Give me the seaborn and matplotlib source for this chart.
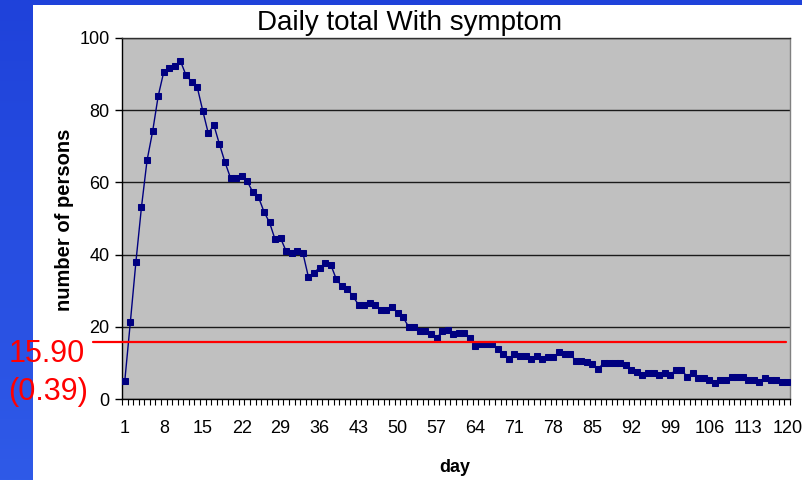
import numpy as np
import pandas as pd
import matplotlib
matplotlib.use("Agg")
import matplotlib.pyplot as plt
import matplotlib.transforms as mtransforms
from matplotlib.colors import LinearSegmentedColormap
from matplotlib.patches import Rectangle
import seaborn as sns

# Daily number of persons reporting symptoms, days 1-120
days = list(range(1, 121))
persons = [
    5.0, 21.3, 38.0, 53.2, 66.1, 74.1, 83.9, 90.6, 91.8, 92.3,
    93.6, 89.7, 87.9, 86.5, 79.9, 73.6, 75.9, 70.6, 65.6, 61.2,
    61.2, 61.8, 60.3, 57.3, 56.0, 51.9, 48.9, 44.2, 44.5, 40.9,
    40.4, 40.9, 40.4, 33.7, 35.0, 36.4, 37.6, 37.2, 33.2, 31.2,
    30.6, 28.4, 26.1, 26.1, 26.6, 26.1, 24.7, 24.7, 25.4, 23.9,
    22.6, 20.0, 20.0, 18.7, 18.7, 18.1, 16.8, 18.7, 19.2, 18.1,
    18.2, 18.2, 16.8, 14.6, 15.1, 15.1, 15.1, 13.8, 12.5, 11.1,
    12.5, 12.0, 12.0, 11.1, 11.8, 11.1, 11.6, 11.6, 13.0, 12.5,
    12.5, 10.6, 10.6, 10.2, 9.7, 8.3, 9.9, 9.9, 9.9, 9.9,
    9.3, 8.1, 7.6, 6.7, 7.3, 7.3, 6.7, 7.3, 6.7, 8.1,
    8.1, 6.2, 7.3, 5.7, 5.7, 5.3, 4.4, 5.3, 5.3, 6.2,
    6.2, 6.2, 5.3, 5.3, 4.8, 5.8, 5.3, 5.3, 4.8, 4.8,
]
mean_value = 15.90
mean_se = 0.39
x_tick_days = list(range(1, 121, 7))
y_ticks = [0, 20, 40, 60, 80, 100]

df = pd.DataFrame({"day": days, "persons": persons})

sns.set_theme(style="white")
plt.rcParams["font.family"] = ["Liberation Sans", "DejaVu Sans"]

W, H = 802, 480
fig = plt.figure(figsize=(W / 100, H / 100), dpi=100)

# slide backdrop: blue band on the left and top, white card
bg = fig.add_axes([0, 0, 1, 1], zorder=-10)
grad = np.linspace(0, 1, 256).reshape(-1, 1)
band = LinearSegmentedColormap.from_list("band", ["#1f42da", "#2f5ae8"])
bg.imshow(grad, aspect="auto", cmap=band, extent=[0, 1, 0, 1], origin="upper")
bg.add_patch(Rectangle((33 / W, 0), 1, (H - 5) / H, color="white", lw=0))
bg.set_xlim(0, 1)
bg.set_ylim(0, 1)
bg.set_axis_off()

ax = fig.add_axes([122 / W, (H - 399) / H, 668 / W, 361 / H])
ax.set_facecolor("#c0c0c0")

sns.lineplot(
    data=df, x="day", y="persons", ax=ax,
    color="#000080", linewidth=1.0,
    marker="s", markersize=4.2, markeredgecolor="#000080",
    markerfacecolor="#000080", zorder=3,
)

ax.set_xlim(0.5, 120.5)
ax.set_ylim(0, 100)

ax.set_yticks(y_ticks)
ax.set_yticklabels([str(v) for v in y_ticks], fontsize=13)
ax.yaxis.grid(True, color="#1a1a1a", linewidth=1.0)
ax.xaxis.grid(False)
ax.set_axisbelow(True)
ax.tick_params(axis="y", which="major", left=True, length=5, width=1,
               color="black", pad=4, labelcolor="black")

ax.set_xticks(x_tick_days)
ax.set_xticklabels([str(d) for d in x_tick_days], fontsize=13)
ax.set_xticks(np.arange(0.5, 121, 1.0), minor=True)
ax.tick_params(axis="x", which="major", bottom=True, length=0, pad=15,
               labelcolor="black")
ax.tick_params(axis="x", which="minor", bottom=True, length=4, width=0.8,
               color="black")

for side, col in [("left", "black"), ("bottom", "black"),
                  ("top", "#303030"), ("right", "#808080")]:
    ax.spines[side].set_visible(True)
    ax.spines[side].set_color(col)
    ax.spines[side].set_linewidth(1.0)

ax.set_xlabel("")
ax.set_ylabel("")

# average level with its standard error
trans = mtransforms.blended_transform_factory(ax.transAxes, ax.transData)
ax.plot([-0.0434, 0.994], [mean_value, mean_value], transform=trans,
        color="#ff0000", linewidth=1.6, clip_on=False, zorder=5)
fig.text(47 / W, (H - 362) / H, f"{mean_value:.2f}", color="#ff0000",
         fontsize=22, ha="center", va="baseline")
fig.text(48 / W, (H - 400) / H, f"({mean_se:.2f})", color="#ff0000",
         fontsize=22, ha="center", va="baseline")

fig.text(410 / W, (H - 30) / H, "Daily total With symptom", fontsize=20,
         ha="center", va="baseline", color="black")
fig.text(65 / W, (H - 220) / H, "number of persons", fontsize=14.5,
         fontweight="bold", rotation=90, ha="center", va="center",
         color="black")
fig.text(455 / W, (H - 468) / H, "day", fontsize=13, fontweight="bold",
         ha="center", va="center", color="black")

fig.savefig("out.png", dpi=100)
